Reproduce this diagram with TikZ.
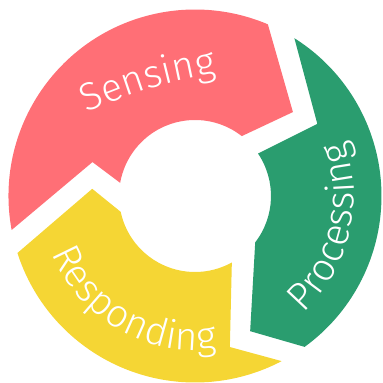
\documentclass[tikz,border=0pt]{standalone}
\usepackage{fontspec}
\newfontfamily\ringfont{Fira Sans Light}
\usetikzlibrary{decorations.text}
\definecolor{senseRed}{RGB}{255,111,118}
\definecolor{processGreen}{RGB}{42,157,111}
\definecolor{respondYellow}{RGB}{245,214,52}

\begin{document}
\begin{tikzpicture}[
    x=1pt,y=1pt,
    ringlabel/.style={decorate,
        decoration={text along path,text align=center,text color=white,
          text={|\ringfont\fontsize{39}{46}\selectfont|#1}}}
  ]
  \useasboundingbox (-195,-187) rectangle (188,196);

  % the three arrow segments of the cycle
  \fill[senseRed] (190.5:186.5) arc[start angle=190.5,end angle=67,radius=186.5]
    -- (40.6:129) -- (52:76) arc[start angle=52,end angle=170,radius=76]
    -- (161.7:108) -- cycle;
  \fill[processGreen] (57.8:186.5) arc[start angle=57.8,end angle=-54,radius=186.5]
    -- (-67.8:146) -- (-37.6:76) arc[start angle=-37.6,end angle=34,radius=76]
    -- (30.5:142) -- cycle;
  \fill[respondYellow] (-62.3:186.5) arc[start angle=-62.3,end angle=-162.2,radius=186.5]
    -- (-184:103) -- (-168:76) arc[start angle=-168,end angle=-61,radius=76]
    -- (-77:155) -- cycle;

  % labels
  \path[ringlabel=Sensing] (-107,84) to[bend left=7] (20,122);
  \path[ringlabel=Processing] (-70:159) arc[start angle=-70,end angle=43,radius=159];
  \path[ringlabel=Responding] (185:154) arc[start angle=185,end angle=295,radius=154];
\end{tikzpicture}
\end{document}
